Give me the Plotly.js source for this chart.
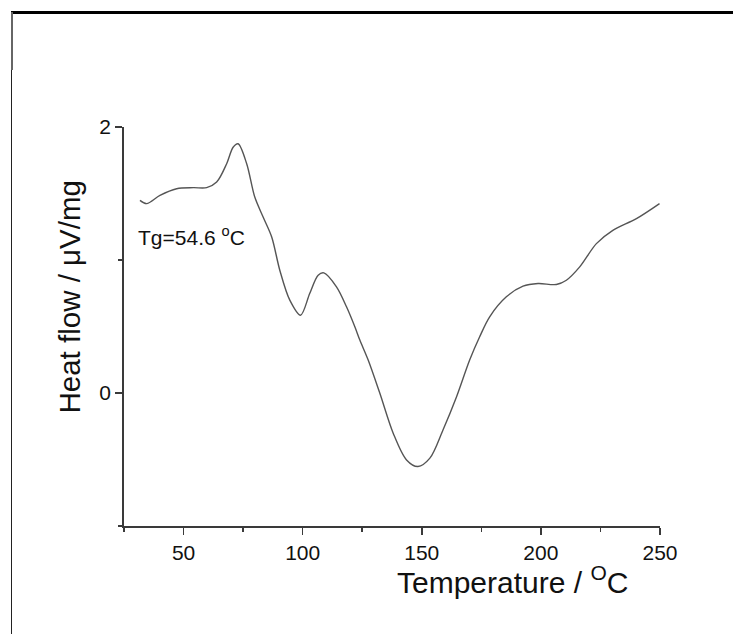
<!DOCTYPE html>
<html>
<head>
<meta charset="utf-8">
<script src="https://cdn.plot.ly/plotly-3.0.1.min.js"></script>
<style>
html,body{margin:0;padding:0;background:#fff;}
#chart{width:733px;height:634px;}
</style>
</head>
<body>
<div id="chart"></div>
<script>
// Temperature (°C)
var temperature = [31.7, 34.5, 40.1, 47.1, 54.1, 59.7, 63.9, 68.1, 70.8, 72.9, 76.5, 79.9, 83.4, 87.0, 90.4, 94.6, 99.1, 103.0, 106.5, 108.9, 114.2, 118.4, 121.9, 124.0, 127.5, 132.4, 138.0, 143.6, 148.4, 153.4, 158.9, 164.6, 170.1, 174.3, 178.5, 185.5, 192.5, 198.8, 206.5, 210.7, 216.3, 223.3, 230.2, 240.1, 249.8];
// Heat flow (µV/mg)
var heatFlow = [1.448, 1.424, 1.486, 1.536, 1.544, 1.544, 1.586, 1.724, 1.848, 1.874, 1.724, 1.473, 1.323, 1.173, 0.923, 0.698, 0.585, 0.750, 0.886, 0.903, 0.798, 0.648, 0.498, 0.398, 0.248, -0.002, -0.302, -0.503, -0.553, -0.490, -0.278, -0.028, 0.248, 0.423, 0.573, 0.723, 0.803, 0.823, 0.816, 0.848, 0.948, 1.123, 1.223, 1.311, 1.424];

var xTitle = 'Temperature / <sup>O</sup>C';
var yTitle = 'Heat flow / \u03bcV/mg';
var tgLabel = 'Tg=54.6 <sup>o</sup>C';

var axisColor = '#3a3a3a';
var fontFam = 'Liberation Sans, Arial, sans-serif';

var trace = {
  x: temperature,
  y: heatFlow,
  type: 'scatter',
  mode: 'lines',
  line: {shape: 'spline', smoothing: 0.9, color: '#555555', width: 1.4},
  hoverinfo: 'skip'
};

var layout = {
  width: 733,
  height: 634,
  margin: {l: 124, r: 73, t: 127, b: 108, pad: 0},
  paper_bgcolor: '#ffffff',
  plot_bgcolor: '#ffffff',
  showlegend: false,
  font: {family: fontFam, color: '#111111'},
  xaxis: {
    range: [25, 250],
    tick0: 0,
    dtick: 50,
    ticks: 'outside',
    ticklen: 7,
    tickwidth: 1.5,
    tickcolor: axisColor,
    showline: true,
    linecolor: axisColor,
    linewidth: 1.8,
    showgrid: false,
    zeroline: false,
    tickfont: {size: 21, family: fontFam, color: '#111111'},
    minor: {dtick: 25, ticks: 'outside', ticklen: 4, tickwidth: 1.5, tickcolor: axisColor, showgrid: false}
  },
  yaxis: {
    range: [-1, 2],
    tick0: 0,
    dtick: 2,
    ticks: 'outside',
    ticklen: 7,
    tickwidth: 1.5,
    tickcolor: axisColor,
    showline: true,
    linecolor: axisColor,
    linewidth: 1.8,
    showgrid: false,
    zeroline: false,
    tickfont: {size: 21, family: fontFam, color: '#111111'},
    minor: {dtick: 1, ticks: 'outside', ticklen: 4, tickwidth: 1.5, tickcolor: axisColor, showgrid: false}
  },
  annotations: [
    {text: xTitle, xref: 'paper', yref: 'paper', x: 0.7257, y: -0.135,
     xanchor: 'center', yanchor: 'middle', showarrow: false,
     font: {size: 30, family: fontFam, color: '#111111'}},
    {text: yTitle, xref: 'paper', yref: 'paper', x: -0.1026, y: 0.5727,
     xanchor: 'center', yanchor: 'middle', showarrow: false, textangle: -90,
     font: {size: 29.5, family: fontFam, color: '#111111'}},
    {text: tgLabel, xref: 'x', yref: 'y', x: 30.0, y: 1.178,
     xanchor: 'left', yanchor: 'middle', showarrow: false,
     font: {size: 21, family: fontFam, color: '#111111'}}
  ],
  shapes: [
    // outer frame: top and left border
    {type: 'line', xref: 'paper', yref: 'paper',
     x0: (11 - 124) / 536, x1: (733 - 124) / 536 + 0.01,
     y0: (526 - 12.5) / 399, y1: (526 - 12.5) / 399,
     line: {color: '#000000', width: 3}},
    {type: 'line', xref: 'paper', yref: 'paper',
     x0: (11.5 - 124) / 536, x1: (11.5 - 124) / 536,
     y0: (526 - 12) / 399, y1: (526 - 640) / 399,
     line: {color: '#222222', width: 1}},
    {type: 'line', xref: 'paper', yref: 'paper',
     x0: (12 - 124) / 536, x1: (12 - 124) / 536,
     y0: (526 - 12) / 399, y1: (526 - 70) / 399,
     line: {color: '#666666', width: 2}}
  ]
};

Plotly.newPlot('chart', [trace], layout, {staticPlot: true, displayModeBar: false});
</script>
</body>
</html>
